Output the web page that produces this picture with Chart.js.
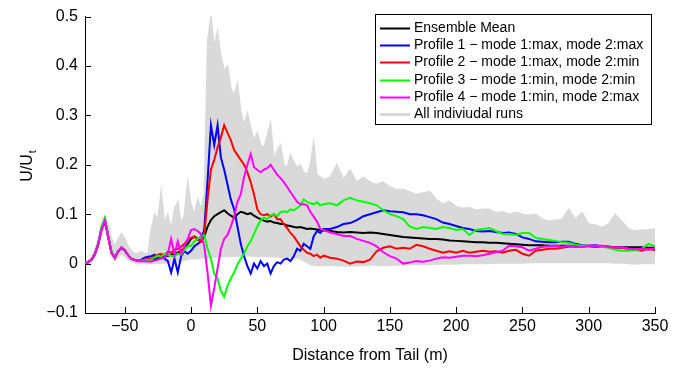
<!DOCTYPE html>
<html><head><meta charset="utf-8">
<script src="https://cdn.jsdelivr.net/npm/chart.js@4"></script>
<style>html,body{margin:0;padding:0;background:#fff;overflow:hidden}canvas{display:block}</style>
</head><body>
<canvas id="c" width="681" height="369"></canvas>
<script>
// Distance from tail (m)
const distance = [
 -80,-77.5,-75,-72.5,-70,-67.5,-65,-62.5,-60,-57.5,-55,-52.5,-50,-47.5,-45,-42.5,-40,-37.5,-35,-32.5,
 -30,-27.5,-25,-22.5,-20,-17.5,-15,-12.5,-10,-7.5,-5,-2.5,0,
 2.5,5,7.5,10,12.5,15,17.5,20,22.5,25,27.5,30,32.5,35,37.5,40,42.5,45,47.5,50,
 52.5,55,57.5,60,62.5,65,67.5,70,72.5,75,77.5,80,82.5,85,87.5,90,92.5,95,97.5,100,
 105,110,115,120,125,130,135,140,145,150,155,160,165,170,175,180,185,190,195,200,
 205,210,215,220,225,230,235,240,245,250,255,260,265,270,275,280,285,290,295,300,
 305,310,315,320,325,330,335,340,345,350];

const ensembleMean = [
 0,0.003,0.008,0.02,0.04,0.072,0.089,0.055,0.022,0.012,0.025,0.032,0.027,0.017,0.01,0.007,0.006,0.006,0.007,0.008,
 0.008,0.009,0.011,0.012,0.014,0.016,0.018,0.02,0.022,0.026,0.032,0.04,0.05,
 0.055,0.05,0.045,0.055,0.075,0.088,0.096,0.1,0.104,0.108,0.102,0.097,0.093,0.1,0.105,0.103,0.1,0.102,0.097,0.093,
 0.09,0.087,0.085,0.086,0.083,0.082,0.08,0.08,0.077,0.076,0.074,0.073,0.074,0.072,0.07,0.071,0.07,0.069,0.068,0.067,
 0.066,0.064,0.063,0.064,0.063,0.062,0.063,0.062,0.06,0.058,0.056,0.054,0.053,0.052,0.051,0.05,0.05,0.049,0.047,0.046,
 0.045,0.044,0.043,0.043,0.042,0.042,0.041,0.04,0.039,0.038,0.037,0.037,0.037,0.036,0.036,0.036,0.036,0.035,0.035,0.035,
 0.034,0.034,0.034,0.033,0.033,0.033,0.033,0.033,0.032,0.032];

const profile1 = [
 0,0.003,0.008,0.02,0.04,0.071,0.088,0.055,0.022,0.012,0.025,0.032,0.026,0.017,0.01,0.007,0.006,0.008,0.012,0.014,
 0.015,0.018,0.012,0.016,0.01,0.005,-0.018,0.01,-0.018,0.015,0.025,0.02,0.026,
 0.035,0.04,0.045,0.07,0.17,0.28,0.24,0.28,0.215,0.19,0.16,0.13,0.11,0.075,0.04,0.015,-0.005,-0.02,0,-0.01,
 0.005,-0.005,0,-0.02,-0.005,0.003,0,0.008,0.01,0.005,0.015,0.03,0.026,0.04,0.035,0.03,0.055,0.066,0.062,0.07,
 0.07,0.074,0.08,0.082,0.088,0.096,0.1,0.104,0.108,0.106,0.105,0.104,0.1,0.1,0.098,0.094,0.09,0.083,0.08,0.076,
 0.072,0.07,0.066,0.065,0.066,0.064,0.062,0.063,0.06,0.053,0.05,0.045,0.044,0.043,0.043,0.044,0.044,0.04,0.037,0.036,
 0.037,0.035,0.034,0.033,0.032,0.03,0.028,0.03,0.03,0.031];

const profile2 = [
 0,0.003,0.008,0.02,0.038,0.068,0.085,0.054,0.022,0.012,0.025,0.032,0.027,0.017,0.01,0.008,0.007,0.007,0.008,0.009,
 0.01,0.014,0.018,0.02,0.016,0.024,0.022,0.028,0.03,0.034,0.04,0.048,0.052,
 0.055,0.048,0.045,0.06,0.13,0.19,0.21,0.235,0.255,0.28,0.265,0.25,0.23,0.22,0.21,0.2,0.185,0.165,0.14,0.11,
 0.1,0.098,0.1,0.095,0.1,0.09,0.09,0.08,0.072,0.062,0.055,0.045,0.035,0.028,0.022,0.02,0.015,0.018,0.012,0.016,
 0.012,0.01,0.006,0,0.004,0.003,0.008,0.025,0.032,0.035,0.03,0.032,0.03,0.038,0.035,0.03,0.026,0.022,0.025,0.022,
 0.026,0.022,0.024,0.026,0.024,0.025,0.022,0.026,0.028,0.02,0.016,0.026,0.028,0.03,0.03,0.032,0.034,0.034,0.035,0.036,
 0.035,0.036,0.034,0.033,0.032,0.03,0.028,0.026,0.03,0.027];

const profile3 = [
 0,0.003,0.008,0.021,0.042,0.075,0.092,0.057,0.023,0.012,0.025,0.033,0.027,0.017,0.01,0.007,0.006,0.006,0.007,0.007,
 0.008,0.012,0.016,0.014,0.02,0.018,0.016,0.014,0.02,0.018,0.028,0.035,0.036,
 0.045,0.05,0.055,0.058,0.03,0.01,-0.02,-0.03,-0.055,-0.067,-0.045,-0.03,-0.018,-0.002,0.01,0.02,0.035,0.045,0.06,0.075,
 0.088,0.093,0.09,0.098,0.1,0.096,0.104,0.106,0.104,0.11,0.108,0.112,0.118,0.13,0.125,0.122,0.12,0.124,0.118,0.12,
 0.122,0.118,0.128,0.133,0.128,0.125,0.122,0.118,0.108,0.1,0.096,0.09,0.075,0.07,0.074,0.072,0.07,0.074,0.072,0.068,
 0.07,0.058,0.068,0.07,0.072,0.066,0.06,0.06,0.058,0.062,0.062,0.052,0.05,0.048,0.046,0.043,0.042,0.038,0.036,0.036,
 0.035,0.034,0.032,0.028,0.026,0.026,0.027,0.03,0.04,0.035];

const profile4 = [
 0,0.003,0.008,0.02,0.04,0.07,0.087,0.055,0.022,0.012,0.025,0.033,0.027,0.017,0.01,0.007,0.005,0.005,0.005,0.004,
 0.004,0.006,0.008,0.01,0.012,0.02,0.05,0.018,0.045,0.02,0.035,0.05,0.068,
 0.07,0.066,0.06,0.035,-0.02,-0.085,-0.05,-0.01,0.03,0.05,0.058,0.075,0.095,0.125,0.14,0.175,0.2,0.222,0.195,0.19,
 0.185,0.19,0.193,0.2,0.19,0.18,0.173,0.165,0.155,0.145,0.135,0.125,0.12,0.12,0.118,0.105,0.095,0.085,0.07,0.068,
 0.063,0.06,0.056,0.056,0.05,0.046,0.042,0.035,0.023,0.015,0.01,0,0.002,0.005,0.004,0.006,0.01,0.013,0.012,0.014,
 0.016,0.016,0.015,0.017,0.02,0.023,0.026,0.036,0.035,0.033,0.026,0.03,0.034,0.035,0.036,0.034,0.036,0.035,0.033,0.036,
 0.035,0.036,0.033,0.032,0.033,0.03,0.029,0.03,0.028,0.031];

// envelope of all individual runs
const runsMax = [
 0.002,0.006,0.013,0.028,0.05,0.08,0.096,0.08,0.05,0.035,0.05,0.06,0.05,0.035,0.025,0.02,0.02,0.025,0.02,0.02,
 0.07,0.1,0.09,0.146,0.08,0.1,0.07,0.11,0.126,0.08,0.1,0.166,0.12,
 0.1,0.13,0.11,0.14,0.45,0.5,0.44,0.47,0.42,0.39,0.4,0.355,0.34,0.365,0.31,0.28,0.305,0.275,0.25,0.265,
 0.24,0.235,0.26,0.285,0.21,0.23,0.24,0.2,0.195,0.22,0.205,0.195,0.2,0.185,0.18,0.2,0.246,0.18,0.175,0.17,
 0.175,0.2,0.17,0.19,0.165,0.175,0.165,0.16,0.165,0.155,0.15,0.15,0.145,0.14,0.143,0.146,0.13,0.12,0.126,0.115,
 0.112,0.113,0.108,0.11,0.11,0.103,0.105,0.1,0.104,0.1,0.098,0.1,0.09,0.086,0.088,0.09,0.11,0.09,0.103,0.08,
 0.078,0.073,0.08,0.1,0.085,0.07,0.066,0.068,0.068,0.07];

const runsMin = [
 0,0,0.004,0.014,0.033,0.06,0.08,0.045,0.015,0.006,0.012,0.02,0.015,0.008,0.004,0.002,0,0,0,0,
 0,0,0,0,0.001,0.002,0.002,0.003,0.004,0.005,0.006,0.008,0.01,
 0.01,0.01,0.012,0.012,0.012,0.012,0.013,0.014,0.014,0.015,0.015,0.015,0.015,0.015,0.016,0.016,0.016,0.016,0.015,0.015,
 0.015,0.015,0.015,0.014,0.014,0.014,0.013,0.013,0.013,0.012,0.012,0.012,0.01,0.006,0.002,-0.002,-0.003,-0.004,-0.004,-0.004,
 -0.004,-0.004,-0.005,-0.005,-0.004,-0.004,-0.003,-0.003,-0.004,-0.004,-0.003,-0.003,-0.002,-0.002,-0.002,-0.002,-0.001,-0.001,-0.001,-0.001,
 0,0,0,0,0,0.001,0.001,0.001,0.001,0.001,0.002,0.002,0.002,0.002,0.002,0.002,0.002,0.002,0.002,0.002,
 0.002,0.002,0.002,0.001,0.001,0,-0.001,0,0,0];

const xTickValues = [-50,0,50,100,150,200,250,300,350];
const xTickLabels = ['\u221250','0','50','100','150','200','250','300','350'];
const yTickValues = [-0.1,0,0.1,0.2,0.3,0.4,0.5];
const yTickLabels = ['\u22120.1','0','0.1','0.2','0.3','0.4','0.5'];

const seriesLabels = ['Ensemble Mean',
 'Profile 1 \u2212 mode 1:max, mode 2:max',
 'Profile 2 \u2212 mode 1:max, mode 2:min',
 'Profile 3 \u2212 mode 1:min, mode 2:min',
 'Profile 4 \u2212 mode 1:min, mode 2:max',
 'All indiviudal runs'];
const seriesColors = ['#000000','#0000ff','#ff0000','#00ff00','#ff00ff','#d9d9d9'];

const FONT = '"Liberation Sans", Arial, Helvetica, sans-serif';
Chart.defaults.font.family = FONT;
Chart.defaults.color = '#000';

function pts(ys) { return distance.map((x, i) => ({x: x, y: ys[i]})); }
function lineDs(label, ys, color, order) {
  return {label, data: pts(ys), borderColor: color, backgroundColor: color, borderWidth: 2,
          pointRadius: 0, tension: 0, fill: false, order};
}

const datasets = [
  lineDs(seriesLabels[0], ensembleMean, seriesColors[0], 4),
  lineDs(seriesLabels[1], profile1, seriesColors[1], 3),
  lineDs(seriesLabels[2], profile2, seriesColors[2], 2),
  lineDs(seriesLabels[3], profile3, seriesColors[3], 1),
  lineDs(seriesLabels[4], profile4, seriesColors[4], 0),
  {label: seriesLabels[5], data: pts(runsMax), borderColor: seriesColors[5], backgroundColor: seriesColors[5],
   borderWidth: 1.5, pointRadius: 0, tension: 0, fill: '+1', order: 5},
  {label: 'runsMin', data: pts(runsMin), borderColor: seriesColors[5], backgroundColor: seriesColors[5],
   borderWidth: 1.5, pointRadius: 0, tension: 0, fill: false, order: 6}
];

const decor = {
  id: 'decor',
  afterDraw(chart) {
    const {ctx, chartArea: a, scales: {x, y}} = chart;
    ctx.save();
    // inward ticks
    ctx.strokeStyle = '#000'; ctx.lineWidth = 1;
    ctx.beginPath();
    xTickValues.forEach(v => {
      const px = Math.round(x.getPixelForValue(v)) + 0.5;
      ctx.moveTo(px, a.bottom); ctx.lineTo(px, a.bottom - 6);
    });
    yTickValues.forEach(v => {
      const py = Math.round(y.getPixelForValue(v)) + 0.5;
      ctx.moveTo(a.left, py); ctx.lineTo(a.left + 6, py);
    });
    ctx.stroke();

    // y axis title with subscript
    ctx.save();
    ctx.translate(32, 166);
    ctx.rotate(-Math.PI / 2);
    ctx.fillStyle = '#000';
    ctx.textBaseline = 'alphabetic'; ctx.textAlign = 'left';
    ctx.font = '16px ' + FONT;
    const w1 = ctx.measureText('U/U').width;
    ctx.font = '11px ' + FONT;
    const w2 = ctx.measureText('t').width;
    const s = -(w1 + w2 + 1) / 2;
    ctx.font = '16px ' + FONT;
    ctx.fillText('U/U', s, 0);
    ctx.font = '11px ' + FONT;
    ctx.fillText('t', s + w1 + 1, 4);
    ctx.restore();

    // legend
    const lx = 375, ly = 14, lw = 276, lh = 110;
    ctx.fillStyle = '#fff';
    ctx.fillRect(lx, ly, lw, lh);
    ctx.strokeStyle = '#000'; ctx.lineWidth = 1;
    ctx.strokeRect(lx + 0.5, ly + 0.5, lw, lh);
    ctx.font = '14px ' + FONT;
    ctx.textBaseline = 'middle'; ctx.textAlign = 'left';
    for (let i = 0; i < 6; i++) {
      const ds = chart.data.datasets[i];
      const yy = Math.round(ly + 13.5 + i * 17.35) + 0.5;
      ctx.strokeStyle = ds.borderColor;
      ctx.lineWidth = i === 5 ? 3 : 2;
      ctx.beginPath(); ctx.moveTo(lx + 5, yy); ctx.lineTo(lx + 35, yy); ctx.stroke();
      ctx.fillStyle = '#000';
      ctx.fillText(ds.label, lx + 39, yy);
    }
    ctx.restore();
  }
};

new Chart(document.getElementById('c'), {
  type: 'line',
  data: {datasets},
  options: {
    responsive: false, animation: false, events: [],
    layout: {padding: {left: 0, top: 13, right: 26, bottom: 0}},
    plugins: {legend: {display: false}, tooltip: {enabled: false}, filler: {propagate: false}},
    scales: {
      x: {
        type: 'linear', min: -80, max: 350,
        afterBuildTicks: s => { s.ticks = xTickValues.map(v => ({value: v})); },
        afterFit: s => { s.height = 56; },
        grid: {display: false, drawTicks: false},
        border: {display: true, color: '#000', width: 1},
        ticks: {padding: 4, font: {size: 16}, color: '#000', maxRotation: 0, autoSkip: false,
                callback: (v, i) => xTickLabels[i]},
        title: {display: true, text: 'Distance from Tail (m)', font: {size: 16}, color: '#000',
                padding: {top: 0, bottom: 4}}
      },
      y: {
        type: 'linear', min: -0.1, max: 0.5,
        afterBuildTicks: s => { s.ticks = yTickValues.map(v => ({value: v})); },
        afterFit: s => { s.width = 85; },
        grid: {display: false, drawTicks: false},
        border: {display: true, color: '#000', width: 1},
        ticks: {padding: 7, font: {size: 16}, color: '#000', autoSkip: false,
                callback: (v, i) => yTickLabels[i]}
      }
    }
  },
  plugins: [decor]
});
</script>
</body></html>
